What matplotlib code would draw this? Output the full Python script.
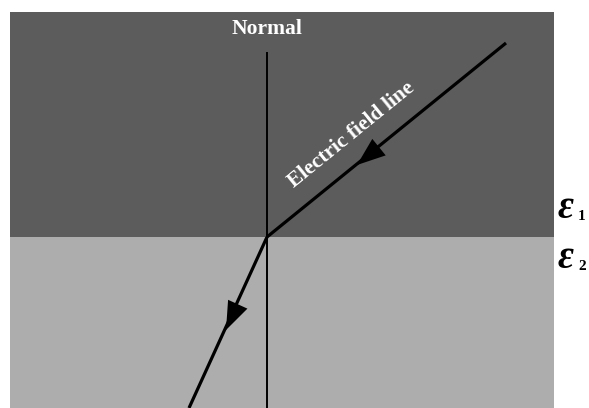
import matplotlib.pyplot as plt
import numpy as np
from matplotlib.patches import Rectangle

# geometry in picture pixels (x right, y down)
region_x = [10, 554]
upper_y = [12, 237]
lower_y = [237, 408]
normal_x = [267, 267]
normal_y = [52, 408]
incident_x = [506, 267]
incident_y = [43, 237]
refracted_x = [267, 189]
refracted_y = [237, 408]
arrow_tips = [(357, 165), (226, 330)]
labels = ["Normal", "Electric field line"]
eps_y = [208, 258]
eps_sub = ["1", "2"]

fig = plt.figure(figsize=(5.89, 4.08), dpi=100)
ax = fig.add_axes([0, 0, 1, 1])
ax.set_xlim(0, 589)
ax.set_ylim(408, 0)
ax.axis('off')

# media
ax.add_patch(Rectangle((region_x[0], upper_y[0]), region_x[1] - region_x[0],
                       upper_y[1] - upper_y[0], color='#5c5c5c', lw=0))
ax.add_patch(Rectangle((region_x[0], lower_y[0]), region_x[1] - region_x[0],
                       lower_y[1] - lower_y[0], color='#adadad', lw=0))

# normal
ax.plot(normal_x, normal_y, color='black', lw=1.4, solid_capstyle='butt')
ax.text(normal_x[0], 29, labels[0], family='Liberation Serif', weight='bold',
        fontsize=15.5, color='white', ha='center', va='center')

# field line
ax.plot(incident_x, incident_y, color='black', lw=2.3, solid_capstyle='butt')
ax.plot(refracted_x, refracted_y, color='black', lw=2.3, solid_capstyle='butt')

for (tx, ty), (x0, y0, x1, y1) in zip(arrow_tips,
        [(incident_x[0], incident_y[0], incident_x[1], incident_y[1]),
         (refracted_x[0], refracted_y[0], refracted_x[1], refracted_y[1])]):
    d = np.array([x1 - x0, y1 - y0], dtype=float)
    d /= np.hypot(*d)
    ax.annotate('', xy=(tx, ty), xytext=(tx - d[0] * 20, ty - d[1] * 20),
                arrowprops=dict(arrowstyle='-|>,head_length=1.2,head_width=0.45',
                                color='black', lw=0, mutation_scale=17,
                                shrinkA=0, shrinkB=0))

# y axis is flipped, so the screen angle is the negative of the data angle
ang = -np.degrees(np.arctan2(incident_y[0] - incident_y[1], incident_x[0] - incident_x[1]))
ax.text(352, 135, labels[1], family='Liberation Serif', weight='bold',
        fontsize=15.5, color='white', ha='center', va='center',
        rotation=ang, rotation_mode='anchor')

# permittivities
for y, s in zip(eps_y, eps_sub):
    ax.text(558, y, "\u03b5", family='Liberation Serif', weight='bold',
            style='italic', fontsize=28, color='black', ha='left', va='center')
    ax.text(578, y + 8, s, family='Liberation Serif', weight='bold',
            fontsize=11, color='black', ha='left', va='center')

fig.savefig('out.png', dpi=100)
